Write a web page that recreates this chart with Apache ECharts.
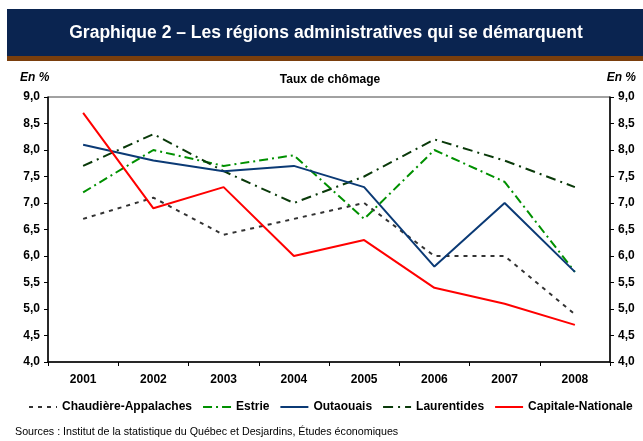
<!DOCTYPE html>
<html>
<head>
<meta charset="utf-8">
<script src="https://cdn.jsdelivr.net/npm/echarts@6/dist/echarts.min.js"></script>
<style>
html,body{margin:0;padding:0;background:#fff;}
#chart{width:643px;height:441px;}
</style>
</head>
<body>
<div id="chart"></div>
<script>
var years = ['2001','2002','2003','2004','2005','2006','2007','2008'];
var chaudiere = [6.7, 7.1, 6.4, 6.7, 7.0, 6.0, 6.0, 4.9];
var estrie = [7.2, 8.0, 7.7, 7.9, 6.7, 8.0, 7.4, 5.7];
var outaouais = [8.1, 7.8, 7.6, 7.7, 7.3, 5.8, 7.0, 5.7];
var laurentides = [7.7, 8.3, 7.6, 7.0, 7.5, 8.2, 7.8, 7.3];
var capitale = [8.7, 6.9, 7.3, 6.0, 6.3, 5.4, 5.1, 4.7];
var seriesNames = ['Chaudière-Appalaches','Estrie','Outaouais','Laurentides','Capitale-Nationale'];
var yMin = 4, yMax = 9, yStep = 0.5;

var FONT = '"Liberation Sans", Arial, sans-serif';
var chart = echarts.init(document.getElementById('chart'), null, {renderer:'canvas'});

function fmt(v){ return v.toFixed(1).replace('.', ','); }

var yAxisCommon = {
  type: 'value', min: yMin, max: yMax, interval: yStep,
  axisLine: {show: true, lineStyle: {color: '#000', width: 1.5}},
  axisTick: {show: true, length: 4, inside: false, lineStyle: {color: '#000', width: 1}},
  splitLine: {show: false},
  axisLabel: {formatter: fmt, color: '#000', fontFamily: FONT, fontWeight: 'bold', fontSize: 12, margin: 8}
};

function mkSeries(name, data, color, type, width, z){
  return {
    name: name, type: 'line', data: data, yAxisIndex: 0,
    symbol: 'none', showSymbol: false, z: z,
    lineStyle: {color: color, width: width, type: type},
    itemStyle: {color: color},
    emphasis: {disabled: true}, animation: false
  };
}

var option = {
  animation: false,
  backgroundColor: '#fff',
  graphic: [
    {type: 'rect', shape: {x: 7, y: 9, width: 640, height: 47}, style: {fill: '#0a2450'}, z: 0},
    {type: 'rect', shape: {x: 7, y: 56, width: 640, height: 5}, style: {fill: '#7a3e0c'}, z: 0},
    {type: 'text', x: 326, y: 33, style: {text: 'Graphique 2 – Les régions administratives qui se démarquent', fill: '#fff', font: 'bold 17.5px ' + FONT, textAlign: 'center', textVerticalAlign: 'middle'}, z: 2},
    {type: 'text', x: 20, y: 78, style: {text: 'En %', fill: '#000', font: 'italic bold 12px ' + FONT, textAlign: 'left', textVerticalAlign: 'middle'}},
    {type: 'text', x: 636, y: 78, style: {text: 'En %', fill: '#000', font: 'italic bold 12px ' + FONT, textAlign: 'right', textVerticalAlign: 'middle'}},
    {type: 'text', x: 330, y: 80, style: {text: 'Taux de chômage', fill: '#000', font: 'bold 12px ' + FONT, textAlign: 'center', textVerticalAlign: 'middle'}},
    {type: 'text', x: 15, y: 432, style: {text: 'Sources : Institut de la statistique du Québec et Desjardins, Études économiques', fill: '#000', font: '10.7px ' + FONT, textAlign: 'left', textVerticalAlign: 'middle'}}
  ],
  grid: {left: 48, right: 33, top: 97, bottom: 79, show: true, borderColor: '#444', borderWidth: 1, backgroundColor: 'transparent'},
  legend: {
    data: seriesNames, left: 23, top: 396, itemWidth: 28, itemHeight: 14, itemGap: 10,
    itemStyle: {opacity: 0},
    textStyle: {color: '#000', fontFamily: FONT, fontWeight: 'bold', fontSize: 12},
    selectedMode: false
  },
  xAxis: {
    type: 'category', data: years, boundaryGap: true,
    axisLine: {show: true, lineStyle: {color: '#000', width: 1.5}},
    axisTick: {show: true, length: 4, alignWithLabel: false, lineStyle: {color: '#000'}},
    axisLabel: {color: '#000', fontFamily: FONT, fontWeight: 'bold', fontSize: 12, margin: 12},
    splitLine: {show: false}
  },
  yAxis: [
    Object.assign({}, yAxisCommon, {position: 'left'}),
    Object.assign({}, yAxisCommon, {position: 'right'})
  ],
  series: [
    mkSeries(seriesNames[0], chaudiere, '#333333', [4, 5], 2, 2),
    mkSeries(seriesNames[1], estrie, '#009000', [9, 4, 2, 4], 2, 3),
    mkSeries(seriesNames[2], outaouais, '#0b3a75', 'solid', 2, 4),
    mkSeries(seriesNames[3], laurentides, '#0a3a0a', [10, 5, 2, 5], 2, 3),
    mkSeries(seriesNames[4], capitale, '#ff0000', 'solid', 2, 5)
  ]
};
chart.setOption(option);
</script>
</body>
</html>
